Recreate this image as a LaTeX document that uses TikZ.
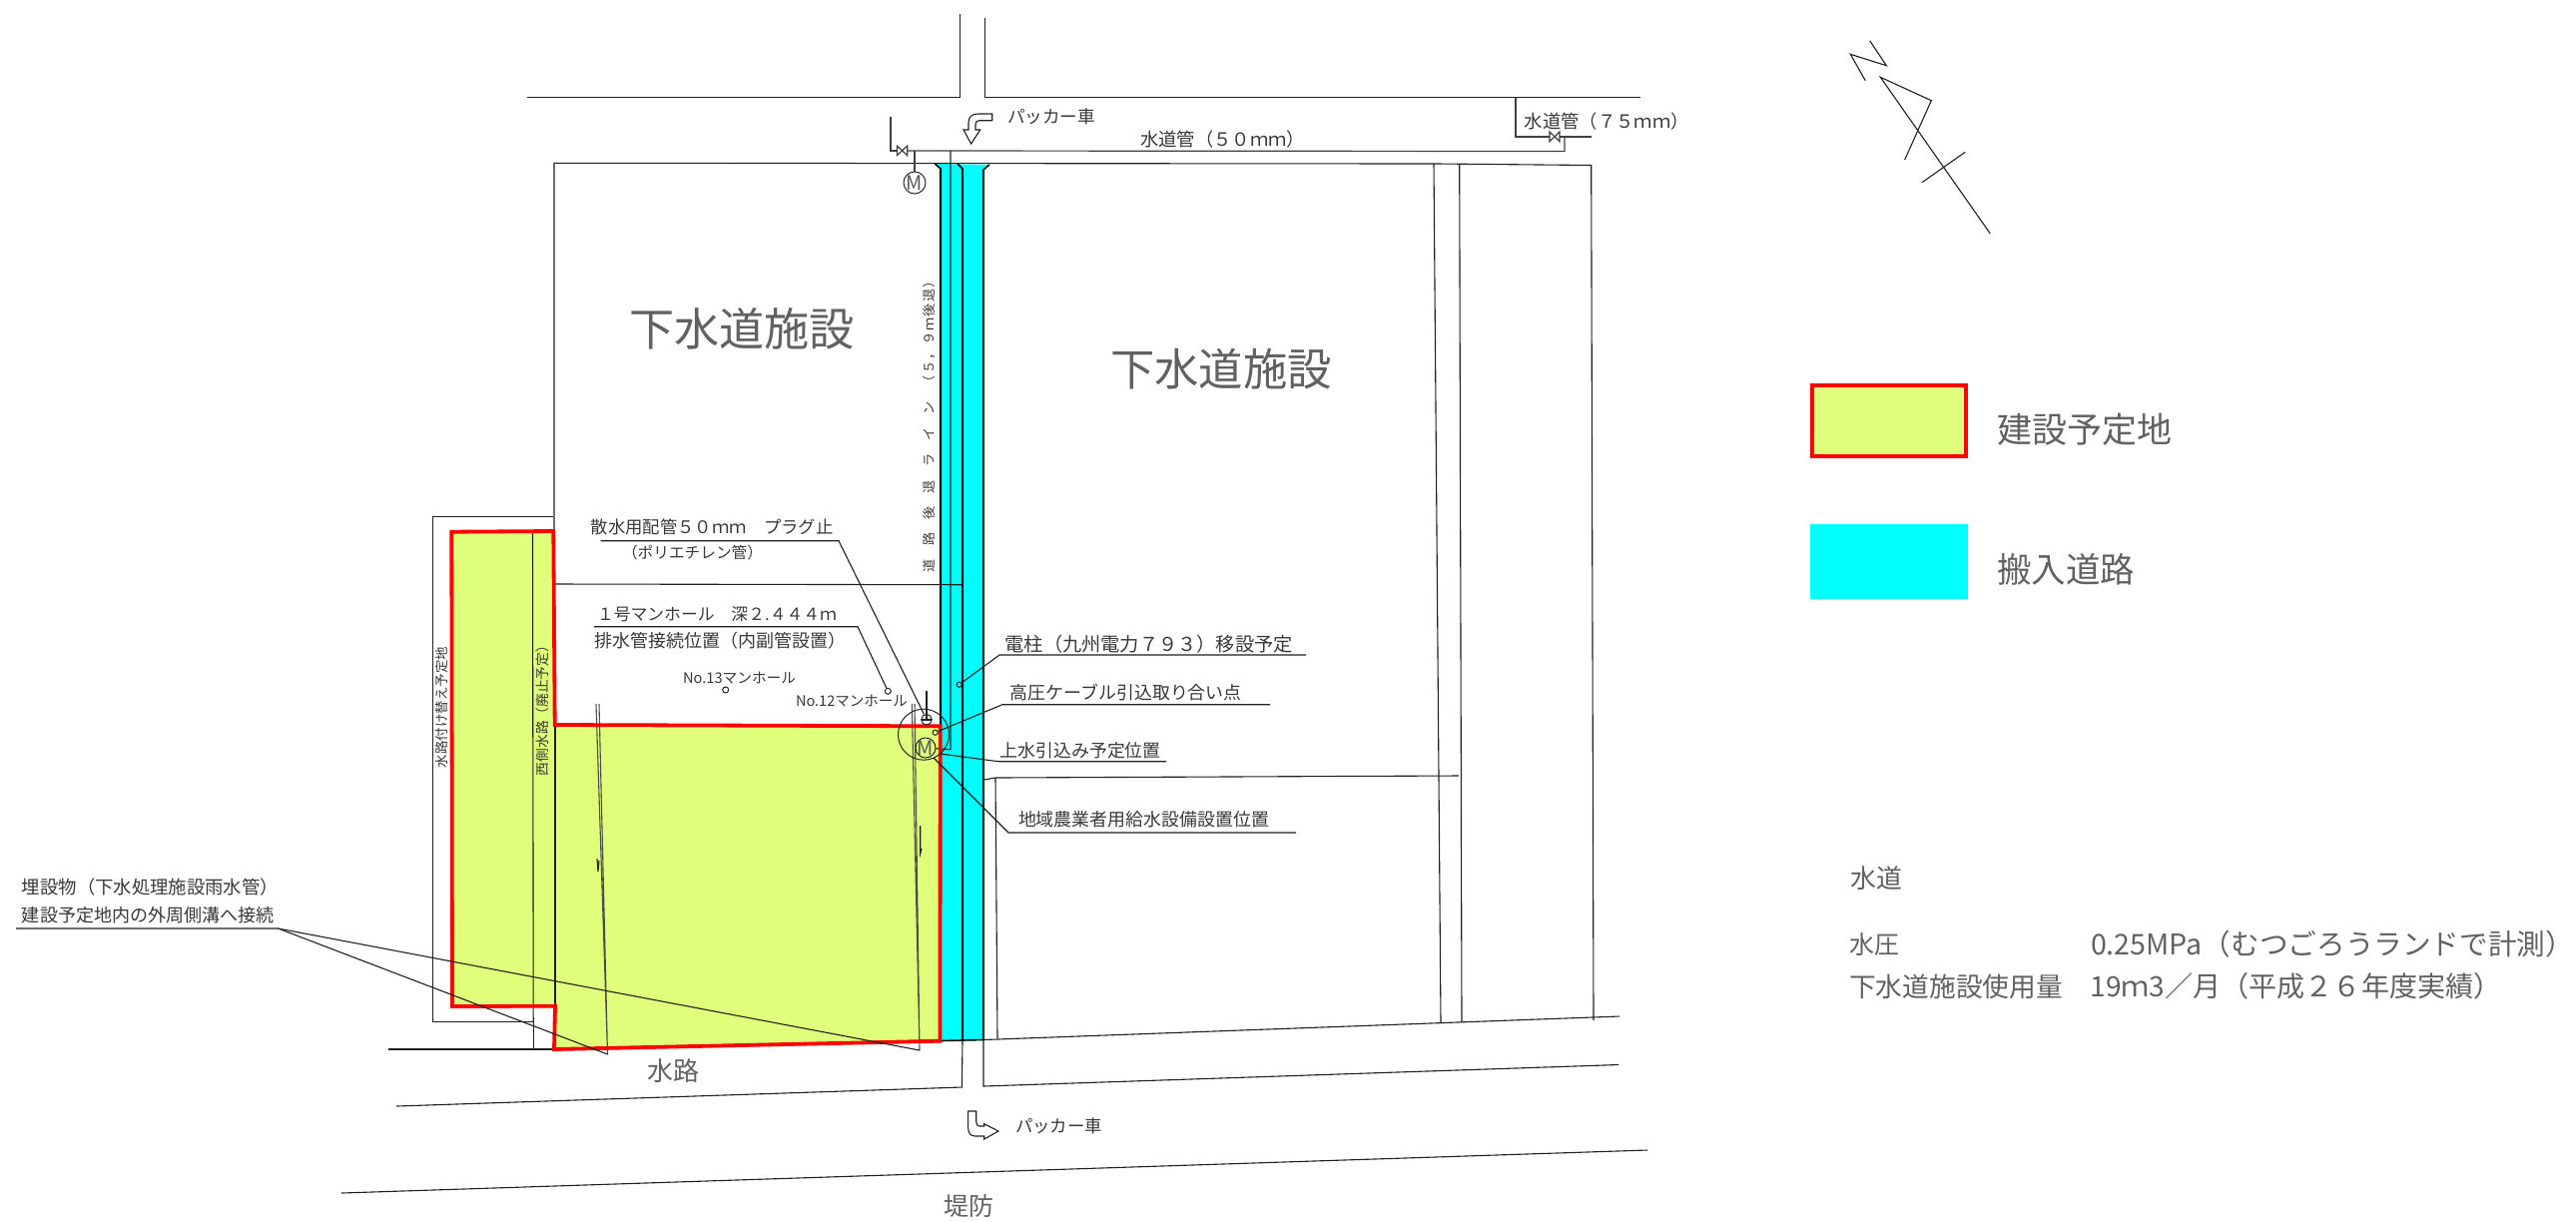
\documentclass[tikz,border=0pt]{standalone}
\usepackage{graphicx}
\usepackage{fontspec}
\setmainfont{Noto Sans CJK JP}
\definecolor{sitegreen}{RGB}{224,255,122}
\definecolor{roadcyan}{RGB}{0,255,255}
\definecolor{sitered}{RGB}{255,0,0}
\newlength{\pxu}\setlength{\pxu}{0.5pt}
\newcommand{\lab}[5]{\node[lbl] (#1) at (#2,#3) {\resizebox{#4\pxu}{!}{#5}};}
\newcommand{\labb}[5]{\node[lbl,text=black!62] (#1) at (#2,#3) {\resizebox{#4\pxu}{!}{#5}};}
\newcommand{\vlab}[5]{\node[lbl,rotate=90] (#1) at (#2,#3) {\resizebox{#4\pxu}{!}{#5}};}
\tikzset{
  lbl/.style={anchor=west,inner sep=0pt,outer sep=0pt,text=black!78},
  ln/.style={draw=black!88,line width=0.55pt,line join=miter},
  bold/.style={draw=black,line width=0.8pt},
  sitefill/.style={fill=sitegreen,draw=none},
  roadfill/.style={fill=roadcyan,draw=none},
  siteline/.style={draw=sitered,line width=1.9pt,line join=miter},
  pipe/.style={draw=black!75,line width=0.6pt},
  hole/.style={circle,draw=black!85,line width=0.5pt,inner sep=0pt,fill=none},
  meter/.style={circle,draw=black!85,line width=0.5pt,inner sep=0pt,minimum size=#1},
  mlabel/.style={inner sep=0pt,text=black!65,font=\fontsize{10}{10}\selectfont},
  dbl/.style={draw=black!70,line width=0.55pt},
}
\begin{document}
\begin{tikzpicture}[x=0.5pt,y=-0.5pt]
\useasboundingbox (0,0) rectangle (2580,1223);
% fills
\path[sitefill] (452.3,532.7) -- (554.3,532) -- (555.7,726) -- (941.7,727.3) -- (941.5,1042.7) -- (555,1051) -- (556,1007.7) -- (453,1008) -- cycle;
\path[roadfill] (936.3,164) -- (991,165) -- (985,170) -- (985,1042) -- (942,1042) -- (942,169) -- cycle;
% roads, top
\draw[ln] (528,97.7) -- (961.5,97.7) -- (961.5,14);
\draw[ln] (986.4,18) -- (986.4,97.7) -- (1642.6,97.7);
% parcels
\draw[ln] (555,726) -- (555,163.3) -- (1440,164) -- (1593.7,165.5) -- (1596,1022);
\draw[ln] (1436,164) -- (1443,1025);
\draw[ln] (1461.7,164) -- (1464,1024);
\draw[ln] (555,585) -- (964,585.7);
\draw[ln] (985.7,781) -- (997,779) -- (1461,777);
\draw[ln] (997,779) -- (999,1040);
\draw[ln] (985,1041.5) -- (1622,1018);
% road corridor
\draw[bold] (936.3,164) -- (942,169) -- (942,727);
\draw[bold] (959,164) -- (964,169) -- (964,1042);
\draw[bold] (991,165) -- (985,170) -- (985,1041.5);
\draw[bold] (942,1042.5) -- (985,1041.5);
\draw[ln] (964,1042) -- (963.4,1089) -- (397,1108);
\draw[ln] (985,1041.5) -- (985,1088) -- (1621,1066.5);
\draw[ln] (342,1195) -- (1650,1152);
% west channel
\draw[ln] (433.3,517.3) -- (554,517.3);
\draw[ln] (433.3,517.3) -- (433.3,1023.7) -- (534.2,1023.7) -- (534.2,1051);
\draw[ln] (533.5,533) -- (534.2,1023.7);
\draw[ln] (389,1051) -- (555,1051);
\draw[ln] (556,726) -- (556,1008);
% water pipes
\draw[pipe] (892,116.7) -- (892,151) -- (898.4,151);
\draw[pipe] (898.4,146) -- (908.7,155.7) -- (908.7,146) -- (898.4,155.7) -- cycle;
\draw[pipe] (908.7,151) -- (1567,151.5) -- (1567,137);
\draw[pipe] (1518,97.7) -- (1518,137) -- (1552,137);
\draw[pipe] (1552,132) -- (1562,141.7) -- (1562,132) -- (1552,141.7) -- cycle;
\draw[pipe] (1562,137) -- (1593.7,137);
\node[meter=11pt] (m1) at (916,183) {};
\node[mlabel] (m1t) at (m1) {M};
\draw[pipe] (916,151) -- (m1);
\node[meter=10pt] (m2) at (927,749) {};
\node[mlabel] (m2t) at (m2) {M};
\draw[draw=black!80!roadcyan,line width=0.6pt] (952,151) -- (952,750.7) -- (m2);
% buried pipes
\coordinate (b1t) at (597,705); \coordinate (b1a) at (600,705); \coordinate (b1b) at (608.5,1056);
\coordinate (b2t) at (913.3,705); \coordinate (b2a) at (916,705); \coordinate (b2b) at (921,1052);
\draw[dbl] (b1t) -- (b1b) -- (b1a);
\draw[dbl] (b2t) -- (b2b) -- (b2a);
\draw[ln] (598,860) -- (599,873) -- (600,862);
\draw[ln] (921.7,827) -- (921.7,855) -- (923,850);
% site outline
\draw[siteline] (452.3,532.7) -- (554.3,532) -- (555.7,726) -- (941.7,727.3) -- (941.5,1042.7) -- (555,1051) -- (556,1007.7) -- (453,1008) -- cycle;
% keys / leaders
\coordinate (e0a) at (16,930); \coordinate (e0) at (278.6,930);
\draw[ln] (e0a) -- (e0) -- (b1b);
\draw[ln] (e0) -- (b2b);
\node[hole,minimum size=5.3pt] (plug) at (928,720.7) {};
\draw[ln] (928,691.7) -- (928,720.7);
\draw[ln] (923,721) -- (933,721);
\node[circle,draw=black!85,line width=0.5pt,inner sep=0pt,minimum size=25.5pt] (ring) at (925,735.7) {};
\coordinate (e1a) at (601.7,541.7); \coordinate (e1) at (840,541.7);
\draw[ln] (e1a) -- (e1) -- (plug);
\node[hole,minimum size=3pt] (h12) at (889.3,692.3) {};
\coordinate (e2a) at (595,627.7); \coordinate (e2) at (859,627.7);
\draw[ln] (e2a) -- (e2) -- (h12);
\node[hole,minimum size=3pt] (h13) at (726.7,691) {};
\node[hole,minimum size=2.6pt] (h3) at (960.7,685.7) {};
\coordinate (e3b) at (1308,656); \coordinate (e3) at (1001,656);
\draw[ln] (e3b) -- (e3) -- (h3);
\node[hole,minimum size=2.6pt] (h4) at (936.7,733.7) {};
\coordinate (e4b) at (1272,705.7); \coordinate (e4) at (1004,705.7);
\draw[ln] (e4b) -- (e4) -- (h4);
\coordinate (e5b) at (1168,762.7); \coordinate (e5) at (1000,762.7); \coordinate (e5t) at (941.7,755);
\draw[ln] (e5b) -- (e5) -- (e5t);
\coordinate (e6b) at (1298,834); \coordinate (e6) at (1010,834); \coordinate (e6t) at (935,759);
\draw[ln] (e6b) -- (e6) -- (e6t);
% packer arrows
\draw[ln] (993.7,114) -- (980,114) .. controls (973,114) and (970,117) .. (970,123) -- (970,130) -- (965,130) -- (972.6,144) -- (981.7,130) -- (977,130) -- (977,125) .. controls (977,122) and (978,120.7) .. (981,120.7) -- (993.7,120.7) -- cycle;
\draw[ln] (969.6,1113) -- (969.6,1129) .. controls (969.6,1135) and (972,1138) .. (977,1138) -- (985.7,1138) -- (985.7,1141) -- (1000,1133) -- (985.7,1125.7) -- (985.7,1128) -- (981,1128) .. controls (978.5,1128) and (977.7,1126) .. (977.7,1123) -- (977.7,1113) -- cycle;
% north symbol
\draw[ln] (1872.7,40.7) -- (1889.3,65.7) -- (1853.3,54.3) -- (1868.3,80.7);
\draw[ln] (1907.7,160) -- (1934.3,100.7) -- (1883.3,77.3) -- (1993.3,234);
\draw[ln] (1968.3,152.3) -- (1925,182.7);
% legend
\draw[siteline,fill=sitegreen] (1814.7,386) rectangle (1969,457.3);
\path[roadfill] (1812.7,525) rectangle (1971,600);
% labels
\lab{t1}{1009}{116.7}{88}{パッカー車}
\lab{t2}{1017}{1127.7}{87}{パッカー車}
\lab{t3}{1526.7}{121.7}{165}{水道管（７５ｍｍ）}
\lab{t4}{1142}{140}{165}{水道管（５０ｍｍ）}
\labb{t5}{630}{329}{226}{下水道施設}
\labb{t6}{1112}{370}{222}{下水道施設}
\labb{t7}{2000}{430}{175}{建設予定地}
\labb{t8}{2000}{570}{138}{搬入道路}
\labb{t9}{1853.7}{880}{52}{水道}
\labb{t10}{1852}{946}{50}{水圧}
\labb{t11}{2094}{946}{484}{0.25MPa（むつごろうランドで計測）}
\labb{t12}{1852}{988}{214}{下水道施設使用量}
\labb{t13}{2093.5}{988}{412}{19ｍ3／月（平成２６年度実績）}
\lab{t14}{22}{889}{257}{埋設物（下水処理施設雨水管）}
\lab{t15}{22}{917}{252.5}{建設予定地内の外周側溝へ接続}
\lab{t16}{591.7}{528}{243}{散水用配管５０ｍｍ　プラグ止}
\lab{t17}{623}{554}{141}{（ポリエチレン管）}
\lab{t18}{598}{615}{240}{１号マンホール　深２.４４４ｍ}
\lab{t19}{595}{642}{252}{排水管接続位置（内副管設置）}
\lab{t20}{684}{679}{113}{No.13マンホール}
\lab{t21}{797}{702}{112}{No.12マンホール}
\lab{t22}{1006.7}{645}{288}{電柱（九州電力７９３）移設予定}
\lab{t23}{1011.7}{694}{232}{高圧ケーブル引込取り合い点}
\lab{t24}{1001.7}{751.7}{161}{上水引込み予定位置}
\lab{t25}{1020}{821}{251}{地域農業者用給水設備設置位置}
\labb{t26}{648.6}{1073}{52}{水路}
\labb{t27}{945.5}{1208}{50}{堤防}
\vlab{t28}{442.7}{769}{121}{水路付け替え予定地}
\vlab{t29}{543}{777}{137}{西側水路（廃止予定）}
\vlab{t30}{931}{573}{298}{道\kern10pt 路\kern10pt 後\kern10pt 退\kern10pt ラ\kern10pt イ\kern10pt ン\kern10pt （\kern1pt ５\kern1pt ，\kern1pt ９\kern1pt ｍ\kern1pt 後\kern1pt 退\kern1pt ）}
\end{tikzpicture}
\end{document}
